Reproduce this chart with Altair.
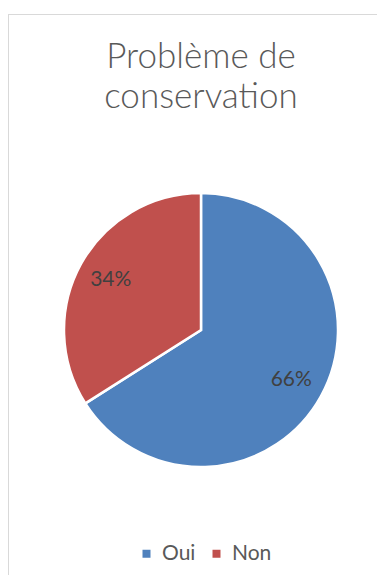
import altair as alt
import pandas as pd

categories = ["Oui", "Non"]
values = [66, 34]
labels = ["66%", "34%"]
colors = ["#4F81BD", "#C0504D"]
title_lines = ["Problème de", "conservation"]

df = pd.DataFrame({"cat": categories, "val": values, "label": labels, "idx": [0, 1]})

W, H = 369, 567
CX, CY = 193, 322
R = 137

base = alt.Chart(df).encode(
    theta=alt.Theta("val:Q", stack=True),
    order=alt.Order("idx:Q"),
    x=alt.value(CX),
    y=alt.value(CY),
)

pie = base.mark_arc(radius=R, stroke="white", strokeWidth=2.5).encode(
    color=alt.Color(
        "cat:N",
        scale=alt.Scale(domain=categories, range=colors),
        sort=categories,
        legend=alt.Legend(
            title=None,
            orient="none",
            legendX=128,
            legendY=535,
            direction="horizontal",
            symbolType="square",
            symbolSize=64,
            symbolStrokeWidth=0,
            labelFont="Lato",
            labelFontSize=21,
            labelColor="#595959",
            labelOffset=5,
            columnPadding=10,
        ),
    )
)

text = base.mark_text(radius=103, font="Lato", fontSize=21, color="#404040").encode(
    text="label:N"
)

tdf = pd.DataFrame({"t": ["\n".join(title_lines)]})
title = alt.Chart(tdf).mark_text(
    font="Lato", fontSize=35, fontWeight=300, color="#595959",
    lineBreak="\n", lineHeight=40, baseline="alphabetic", align="center"
).encode(text="t:N", x=alt.value(CX), y=alt.value(60))

one = alt.Chart(pd.DataFrame({"a": [0]}))
top_rule = one.mark_rule(color="#D9D9D9", strokeWidth=1).encode(
    x=alt.value(0), x2=alt.value(W), y=alt.value(6.5)
)
left_rule = one.mark_rule(color="#D9D9D9", strokeWidth=1).encode(
    x=alt.value(0.5), y=alt.value(6), y2=alt.value(H)
)

chart = alt.layer(top_rule, left_rule, title, pie, text).properties(
    width=W, height=H, autosize=alt.AutoSizeParams(type="none"), padding=0
).configure_view(stroke=None)

chart.save("out.html", embed_options={"renderer": "svg", "actions": False})
